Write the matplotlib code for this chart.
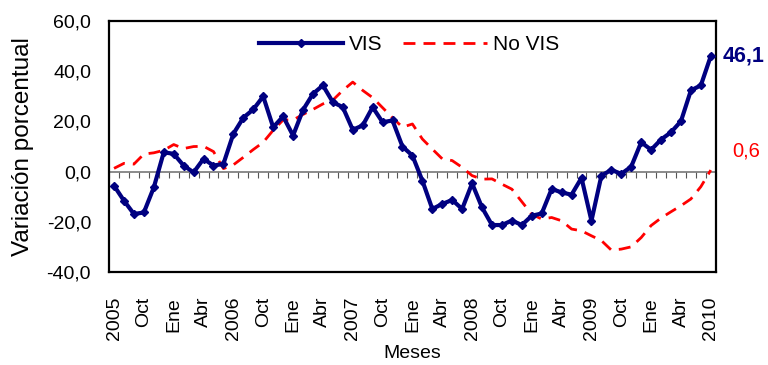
import numpy as np
import matplotlib
matplotlib.use('Agg')
import matplotlib.pyplot as plt

plt.rcParams['font.family'] = ['Liberation Sans', 'DejaVu Sans']

# monthly series, Jul 2005 .. Jul 2010
vis = [-5.6, -11.6, -16.9, -16.3, -6.3, 7.7, 7.1, 2.4, -0.3, 5.1,
       2.4, 3.1, 15.1, 21.5, 24.8, 30.0, 17.7, 22.0, 14.4, 24.6,
       31.0, 34.4, 27.7, 25.7, 16.7, 18.4, 25.7, 19.7, 20.4, 10.0,
       6.4, -3.6, -14.9, -12.9, -11.3, -14.9, -4.7, -14.3, -21.3, -21.3,
       -19.5, -21.3, -17.6, -16.7, -6.9, -8.3, -9.2, -2.5, -19.6, -1.6,
       0.7, -0.9, 2.0, 11.7, 8.7, 12.8, 15.7, 20.1, 32.4, 34.4,
       46.1]
no_vis = [1.3, 3.3, 3.0, 7.0, 7.5, 8.5, 10.8, 9.2, 10.0, 10.1,
          8.0, 1.2, 2.7, 5.7, 8.8, 11.7, 16.5, 20.6, 20.6, 22.8,
          24.8, 27.0, 28.5, 32.4, 35.7, 32.4, 29.5, 25.5, 21.5, 17.7,
          19.0, 13.0, 9.0, 5.1, 4.4, 1.7, -1.6, -3.0, -2.9, -5.0,
          -7.0, -12.0, -17.0, -18.9, -18.3, -19.6, -22.9, -23.6, -25.6, -27.5,
          -31.3, -30.9, -30.0, -26.3, -21.5, -18.5, -16.0, -13.6, -10.9, -6.0,
          0.6]
tick_labels = ['2005', 'Oct', 'Ene', 'Abr', '2006', 'Oct', 'Ene', 'Abr',
               '2007', 'Oct', 'Ene', 'Abr', '2008', 'Oct', 'Ene', 'Abr',
               '2009', 'Oct', 'Ene', 'Abr', '2010']

x = np.arange(len(vis))

fig = plt.figure(figsize=(7.68, 3.65), dpi=100)
ax = fig.add_axes([0.142, 0.255, 0.79, 0.687])

ax.plot(x, no_vis, color='#FF0000', lw=2.0, dashes=(4.3, 2.9), label='No VIS', zorder=2)
ax.plot(x, vis, color='#000080', lw=3.0, marker='D', ms=4.5, label='VIS', zorder=3)

ax.set_xlim(-0.5, len(vis) - 0.5)
ax.set_ylim(-40, 60)
ax.set_yticks(np.arange(-40, 61, 20))
ax.yaxis.set_major_formatter(plt.FuncFormatter(lambda v, p: ('%.1f' % v).replace('.', ',')))
ax.set_xticks(x[::3])
ax.set_xticklabels(tick_labels, rotation=90)
ax.tick_params(axis='x', length=0, pad=18, labelsize=14)
ax.tick_params(axis='y', length=0, pad=13, labelsize=14)
for s in ax.spines.values():
    s.set_linewidth(1.6)

# category axis drawn through zero, with minor ticks between months
zax = ax.secondary_xaxis(0.4)
zax.set_xticks(np.arange(-0.5, len(vis), 1))
zax.tick_params(axis='x', length=4, width=0.8, color='#555555', labelbottom=False)
zax.spines['bottom'].set_color('#777777')
zax.spines['bottom'].set_linewidth(1.2)

ax.set_ylabel('Variación porcentual', fontsize=17.5)
ax.yaxis.set_label_coords(-0.124, 0.5)
ax.set_xlabel('Meses', fontsize=14)
ax.xaxis.set_label_coords(0.5, -0.29)

handles, labels = ax.get_legend_handles_labels()
ax.legend(handles[::-1], labels[::-1], loc='upper center', ncol=2, frameon=False,
          fontsize=15, handlelength=4.0, handletextpad=0.3, columnspacing=1.0,
          bbox_to_anchor=(0.495, 1.02))

ax.annotate('46,1', xy=(1, vis[-1]), xycoords=('axes fraction', 'data'),
            xytext=(5, 0), textcoords='offset points', va='center', ha='left',
            color='#000080', fontsize=15.5, fontweight='bold', annotation_clip=False)
ax.annotate('0,6', xy=(1, no_vis[-1]), xycoords=('axes fraction', 'data'),
            xytext=(12, 14), textcoords='offset points', va='center', ha='left',
            color='#FF0000', fontsize=14.5, annotation_clip=False)

fig.savefig('out.png', dpi=100)
